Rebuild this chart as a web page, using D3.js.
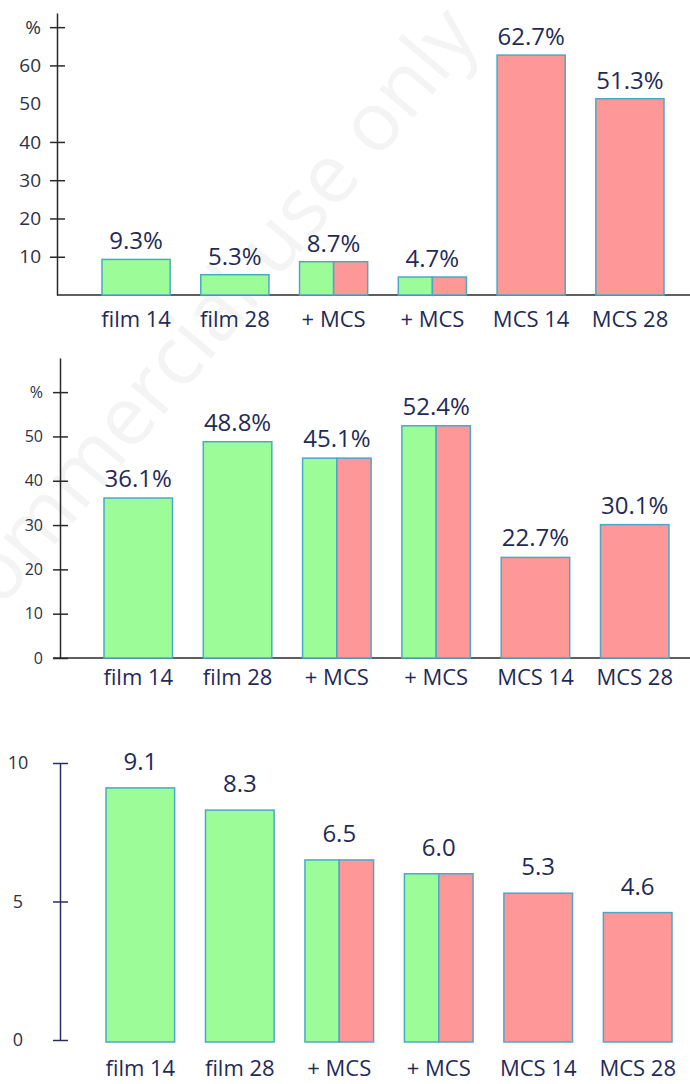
<!DOCTYPE html>
<html>
<head>
<meta charset="utf-8">
<script src="https://cdn.jsdelivr.net/npm/d3@7"></script>
<style>
  html, body { margin: 0; padding: 0; background: #fff; }
  svg { display: block; }
</style>
</head>
<body>
<div id="chart"></div>
<script>
// chart data
var categories = ['film 14', 'film 28', '+ MCS', '+ MCS', 'MCS 14', 'MCS 28'];
var kinds = ['film', 'film', 'both', 'both', 'mcs', 'mcs'];

var values_top = [9.3, 5.3, 8.7, 4.7, 62.7, 51.3];
var values_mid = [36.1, 48.8, 45.1, 52.4, 22.7, 30.1];
var values_bot = [9.1, 8.3, 6.5, 6.0, 5.3, 4.6];

var ticks_top = [10, 20, 30, 40, 50, 60, 70];
var ticks_mid = [0, 10, 20, 30, 40, 50, 60];
var ticks_bot = [0, 5, 10];

var green = '#9cfd98';
var red = '#fe9898';
var edge = '#4aa8c9';
var navy = '#1f2b57';

var width = 690, height = 1084;

var svg = d3.select('#chart')
    .append('svg')
    .attr('width', width)
    .attr('height', height)
    .style('font-family', '"Open Sans", sans-serif');

// faint watermark behind everything
svg.append('text')
    .attr('transform', 'translate(168, 410) rotate(-50)')
    .attr('text-anchor', 'middle')
    .style('font-size', '82px')
    .style('fill', '#f4f4f4')
    .text('Non-commercial use only');

function draw_panel(cfg) {
    var g = svg.append('g');

    var x = d3.scaleBand()
        .domain(d3.range(categories.length))
        .range(cfg.xRange)
        .paddingInner(0.31)
        .paddingOuter(0);

    var y = d3.scaleLinear()
        .domain(cfg.yDomain)
        .range(cfg.yRange);

    var rows = cfg.values.map(function(v, i) {
        return { i: i, value: v, kind: kinds[i], label: categories[i] };
    });

    // base line along the x axis
    if (cfg.baseline) {
        g.append('line')
            .attr('x1', cfg.baselineStart)
            .attr('x2', width)
            .attr('y1', y(0))
            .attr('y2', y(0))
            .attr('stroke', cfg.axisColor)
            .attr('stroke-width', 1.5);
    }

    // y axis with crossing ticks (labels drawn separately below)
    var axis = d3.axisLeft(y)
        .tickValues(cfg.ticks)
        .tickFormat('')
        .tickSizeInner(7)
        .tickSizeOuter(0);

    var ag = g.append('g')
        .attr('transform', `translate(${cfg.axisX}, 0)`)
        .call(axis);

    ag.select('.domain').attr('stroke', cfg.axisColor).attr('stroke-width', 1.5);
    ag.selectAll('.tick line')
        .attr('x1', 8)
        .attr('stroke', cfg.axisColor)
        .attr('stroke-width', 1.5)
        .style('display', function(d) { return cfg.hideTick.indexOf(d) >= 0 ? 'none' : null; });

    g.selectAll('text.tk').data(cfg.ticks).enter().append('text')
        .attr('class', 'tk')
        .attr('x', cfg.tickX)
        .attr('y', function(d) { return y(d); })
        .attr('dy', '0.35em')
        .attr('text-anchor', cfg.tickAnchor)
        .style('font-size', cfg.tickFont)
        .attr('fill', cfg.tickColor)
        .text(cfg.tickFormat);

    // bars; combined ones split into two halves
    var bars = g.selectAll('g.bar').data(rows).enter().append('g').attr('class', 'bar');

    bars.each(function(d) {
        var sel = d3.select(this);
        var bw = x.bandwidth();
        var parts;
        if (d.kind === 'both') {
            parts = [{ off: 0, w: bw / 2, c: green }, { off: bw / 2, w: bw / 2, c: red }];
        } else {
            parts = [{ off: 0, w: bw, c: d.kind === 'film' ? green : red }];
        }
        parts.forEach(function(p) {
            sel.append('rect')
                .attr('x', x(d.i) + p.off)
                .attr('y', y(d.value))
                .attr('width', p.w)
                .attr('height', y(0) - y(d.value) + cfg.barExtra)
                .attr('fill', p.c)
                .attr('stroke', edge)
                .attr('stroke-width', 1.5);
        });
    });

    // value labels
    g.selectAll('text.val').data(rows).enter().append('text')
        .attr('class', 'val')
        .attr('x', function(d) { return x(d.i) + x.bandwidth() / 2; })
        .attr('y', function(d) { return y(d.value) - cfg.labelGap; })
        .attr('text-anchor', 'middle')
        .style('font-size', '24px')
        .attr('fill', navy)
        .text(function(d) { return cfg.valueFormat(d.value); });

    // category labels
    g.selectAll('text.cat').data(rows).enter().append('text')
        .attr('class', 'cat')
        .attr('x', function(d) { return x(d.i) + x.bandwidth() / 2; })
        .attr('y', cfg.catY)
        .attr('text-anchor', 'middle')
        .style('font-size', '22px')
        .attr('fill', navy)
        .text(function(d) { return d.label; });
}

draw_panel({
    values: values_top,
    ticks: ticks_top,
    tickFormat: function(d) { return d === 70 ? '%' : d; },
    hideTick: [50],
    xRange: [102, 664],
    yDomain: [0, 73.7],
    yRange: [295, 13],
    axisX: 57,
    axisColor: '#2a2a2a',
    baseline: true,
    baselineStart: 57,
    tickFont: '19px',
    tickColor: '#2c3148',
    tickAnchor: 'end',
    tickX: 41,
    barExtra: 0,
    labelGap: 10,
    valueFormat: function(v) { return v.toFixed(1) + '%'; },
    catY: 327
});

draw_panel({
    values: values_mid,
    ticks: ticks_mid,
    tickFormat: function(d) { return d === 60 ? '%' : d; },
    hideTick: [],
    xRange: [104, 669],
    yDomain: [0, 67.7],
    yRange: [658, 358],
    axisX: 60,
    axisColor: '#2a2a2a',
    baseline: true,
    baselineStart: 53,
    tickFont: '16px',
    tickColor: '#2c3148',
    tickAnchor: 'end',
    tickX: 43,
    barExtra: 0,
    labelGap: 11,
    valueFormat: function(v) { return v.toFixed(1) + '%'; },
    catY: 685
});

draw_panel({
    values: values_bot,
    ticks: ticks_bot,
    tickFormat: function(d) { return d; },
    hideTick: [],
    xRange: [106, 672],
    yDomain: [0, 10],
    yRange: [1040, 763],
    axisX: 60,
    axisColor: '#2d2d66',
    baseline: false,
    baselineStart: 0,
    tickFont: '18px',
    tickColor: '#2c3148',
    tickAnchor: 'middle',
    tickX: 18,
    barExtra: 2,
    labelGap: 18,
    valueFormat: function(v) { return v.toFixed(1); },
    catY: 1076
});
</script>
</body>
</html>
